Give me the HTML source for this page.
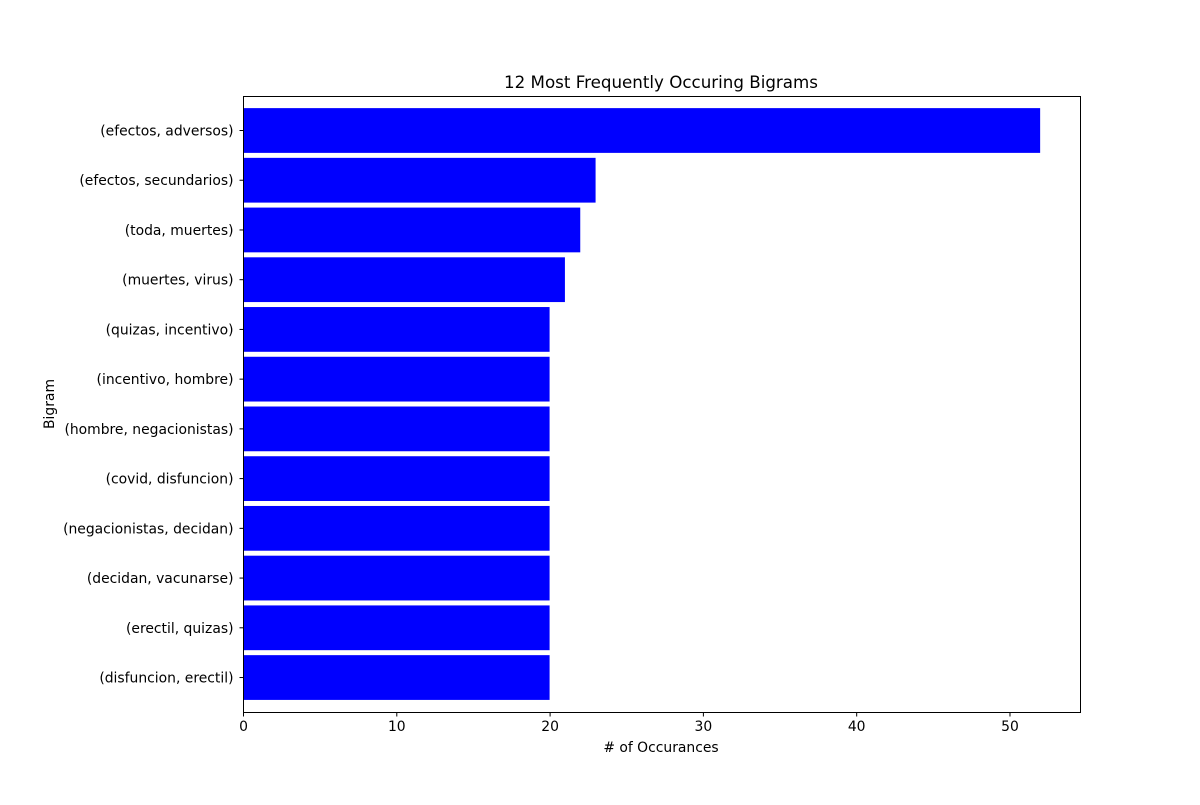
<!DOCTYPE html>
<html><head><meta charset="utf-8"><style>
body{margin:0;background:#fff;}
text{font-family:"DejaVu Sans","Liberation Sans",sans-serif;font-size:13.9px;fill:#000;}
</style></head><body>
<svg id="chart" width="1200" height="800" xmlns="http://www.w3.org/2000/svg">
<text x="661" y="88" text-anchor="middle" style="font-size:16.7px">12 Most Frequently Occuring Bigrams</text>
<text x="661" y="752" text-anchor="middle"># of Occurances</text>
<text transform="translate(54,404) rotate(-90)" text-anchor="middle">Bigram</text>
<g id="bars"></g><g id="ticks"></g>
<rect x="243.5" y="96.5" width="837" height="616" fill="none" stroke="#000" stroke-width="1"/>
</svg>
<script>
const categories=["(efectos, adversos)","(efectos, secundarios)","(toda, muertes)","(muertes, virus)","(quizas, incentivo)","(incentivo, hombre)","(hombre, negacionistas)","(covid, disfuncion)","(negacionistas, decidan)","(decidan, vacunarse)","(erectil, quizas)","(disfuncion, erectil)"];
const values=[52,23,22,21,20,20,20,20,20,20,20,20];
const xTicks=[0,10,20,30,40,50];
const NS="http://www.w3.org/2000/svg";
const x0=243.5,x1=1080.5,xMax=54.6;
const xs=v=>x0+(v/xMax)*(x1-x0);
const yTop=130.5,step=49.73;
const ys=i=>yTop+i*step;
const bars=document.getElementById('bars'),ticks=document.getElementById('ticks');
function mk(t,a){const e=document.createElementNS(NS,t);for(const k in a)e.setAttribute(k,a[k]);return e;}
categories.forEach((c,i)=>{
  const r=mk('rect',{x:xs(0)-0.5,y:ys(i)-0.45*step,width:xs(values[i])-xs(0),height:0.9*step,fill:'#0000ff'});
  
  
  bars.appendChild(r);
  const tk=mk('line',{x1:x0-4,x2:x0,y1:ys(i),y2:ys(i),stroke:'#000'});
  
  
  ticks.appendChild(tk);
  const t=mk('text',{x:x0-10,y:ys(i)+5,'text-anchor':'end'});
  t.textContent=c;
  
  
  ticks.appendChild(t);
});
xTicks.forEach(v=>{
  const tk=mk('line',{x1:xs(v),x2:xs(v),y1:712.5,y2:716.5,stroke:'#000'});
  
  
  ticks.appendChild(tk);
  const t=mk('text',{x:xs(v),y:731,'text-anchor':'middle'});
  t.textContent=v;
  
  
  ticks.appendChild(t);
});
</script>
</body></html>
